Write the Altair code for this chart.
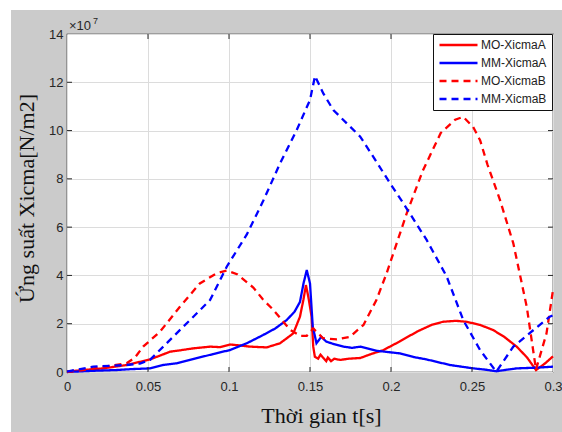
import altair as alt
import pandas as pd

# ---- data (stress in units of 1e7 N/m2) ----
t_mo_a = [0, 0.01, 0.0224, 0.0368, 0.0512, 0.0636, 0.07, 0.078, 0.0883, 0.0945, 0.1006, 0.107, 0.113,
          0.1233, 0.1315, 0.1397, 0.1438, 0.1459, 0.1475, 0.149, 0.151, 0.152, 0.153, 0.155, 0.1565,
          0.158, 0.16, 0.161, 0.163, 0.165, 0.1685, 0.174, 0.181, 0.188, 0.195, 0.205, 0.216, 0.225,
          0.232, 0.24, 0.2467, 0.255, 0.263, 0.27, 0.2776, 0.284, 0.2895, 0.295, 0.3]
mo_a = [0.02, 0.08, 0.15, 0.29, 0.52, 0.84, 0.9, 0.98, 1.05, 1.03, 1.14, 1.1, 1.05,
        1.02, 1.19, 1.6, 2.29, 2.98, 3.6, 3.1, 2.29, 1.05, 0.63, 0.55, 0.72,
        0.6, 0.45, 0.6, 0.45, 0.55, 0.5, 0.55, 0.58, 0.75, 0.9, 1.25, 1.67, 1.95,
        2.08, 2.12, 2.08, 1.95, 1.74, 1.45, 1.05, 0.6, 0.08, 0.35, 0.65]

t_mm_a = [0, 0.0162, 0.03, 0.04, 0.0512, 0.0594, 0.0677, 0.08, 0.09, 0.1006, 0.111, 0.121, 0.1285,
          0.1356, 0.1405, 0.1438, 0.146, 0.148, 0.15, 0.1517, 0.154, 0.157, 0.16, 0.165, 0.1706,
          0.176, 0.181, 0.191, 0.2056, 0.214, 0.222, 0.2364, 0.2508, 0.258, 0.265, 0.27, 0.2776,
          0.29, 0.3]
mm_a = [0.0, 0.05, 0.08, 0.12, 0.15, 0.29, 0.36, 0.57, 0.74, 0.91, 1.19, 1.53, 1.8,
        2.15, 2.5, 2.9, 3.67, 4.22, 3.67, 1.88, 1.19, 1.46, 1.26, 1.15, 1.05,
        1.0, 1.05, 0.88, 0.77, 0.62, 0.52, 0.29, 0.15, 0.1, 0.03, 0.08, 0.15,
        0.18, 0.22]

t_mo_b = [0, 0.01, 0.0224, 0.0368, 0.042, 0.047, 0.0574, 0.0697, 0.082, 0.0924, 0.0986, 0.105,
          0.115, 0.121, 0.127, 0.1377, 0.144, 0.148, 0.152, 0.158, 0.1666, 0.1747, 0.183, 0.191,
          0.1973, 0.2035, 0.2097, 0.2197, 0.2307, 0.2396, 0.2446, 0.2507, 0.255, 0.2595, 0.2673,
          0.2755, 0.2838, 0.2895, 0.296, 0.3]
mo_b = [0, 0.08, 0.22, 0.36, 0.6, 1.05, 1.67, 2.7, 3.67, 4.09, 4.2, 4.05,
        3.5, 3.0, 2.6, 1.75, 1.5, 1.5, 1.8, 1.4, 1.35, 1.46, 1.95, 2.98,
        4.09, 5.33, 6.57, 8.35, 9.9, 10.45, 10.57, 10.15, 9.6, 8.6, 7.12,
        5.33, 2.7, 0.1, 1.6, 3.4]

t_mm_b = [0, 0.0162, 0.0368, 0.045, 0.0512, 0.0636, 0.0759, 0.0883, 0.0986, 0.111, 0.1212, 0.1315,
          0.1418, 0.15, 0.1531, 0.1582, 0.1644, 0.1727, 0.181, 0.189, 0.1994, 0.2076, 0.222,
          0.2344, 0.2446, 0.255, 0.265, 0.2755, 0.288, 0.298, 0.3]
mm_b = [0.02, 0.22, 0.29, 0.35, 0.5, 1.33, 2.15, 2.98, 4.36, 5.7, 7.1, 8.64,
        10.02, 11.27, 12.26, 11.54, 10.85, 10.3, 9.75, 8.92, 7.82, 6.99, 5.47,
        3.95, 2.15, 0.91, 0.01, 1.05, 1.74, 2.29, 2.35]

series_names = ["MO-XicmaA", "MM-XicmaA", "MO-XicmaB", "MM-XicmaB"]
series_colors = ["#ff0000", "#0000ff", "#ff0000", "#0000ff"]
series_dash = [[1, 0], [1, 0], [7, 5], [7, 5]]

x_ticks = [0, 0.05, 0.1, 0.15, 0.2, 0.25, 0.3]
y_ticks = [0, 2, 4, 6, 8, 10, 12, 14]

rows = []
for name, ts, vs in zip(series_names, [t_mo_a, t_mm_a, t_mo_b, t_mm_b], [mo_a, mm_a, mo_b, mm_b]):
    for t, v in zip(ts, vs):
        rows.append({"series": name, "t": t, "v": v})
df = pd.DataFrame(rows)

W, H = 486, 338
TXT = "#262626"

xscale = alt.Scale(domain=[0, 0.3], nice=False, zero=False)
yscale = alt.Scale(domain=[0, 14], nice=False)
xaxis = alt.Axis(values=x_ticks, format="~g", ticks=False, domain=False, grid=True,
                 gridColor="#dcdcdc", labelFont="Liberation Sans", labelFontSize=13,
                 labelColor=TXT, labelPadding=8, labelFlush=False,
                 title="Thời gian t[s]", titleFont="Liberation Serif", titleFontSize=22,
                 titleFontWeight="normal", titleColor="#111111", titleX=254, titleY=50,
                 titleBaseline="alphabetic")
yaxis = alt.Axis(values=y_ticks, ticks=False, domain=False, grid=True,
                 gridColor="#dcdcdc", labelFont="Liberation Sans", labelFontSize=13,
                 labelColor=TXT, labelPadding=4, labelFlush=False,
                 title="Ứng suất Xicma[N/m2]", titleFont="Liberation Serif", titleFontSize=22,
                 titleFontWeight="normal", titleColor="#111111", titleX=-34, titleY=164,
                 titleBaseline="alphabetic")

X = alt.X("t:Q", scale=xscale, axis=xaxis)
Y = alt.Y("v:Q", scale=yscale, axis=yaxis)

one = alt.Data(values=[{}])

# white margin strips (figure edge outside gray frame)
strip_left = alt.Chart(one).mark_rect(color="white").encode(
    x=alt.value(-67), x2=alt.value(-56), y=alt.value(-34), y2=alt.value(H + 60))
strip_top = alt.Chart(one).mark_rect(color="white").encode(
    x=alt.value(-67), x2=alt.value(W + 9), y=alt.value(-34), y2=alt.value(-24))

lines = alt.Chart(df).mark_line(strokeWidth=2.3, strokeCap="butt").encode(
    x=X, y=Y,
    color=alt.Color("series:N", scale=alt.Scale(domain=series_names, range=series_colors),
                    legend=alt.Legend(title=None, orient="none", legendX=366, legendY=0,
                                      fillColor="white", strokeColor="#111111",
                                      padding=5, labelFont="Liberation Sans",
                                      labelFontSize=12, labelColor="#222222",
                                      symbolType="stroke", symbolSize=1444,
                                      symbolStrokeWidth=2.3, clipHeight=12,
                                      rowPadding=6, labelOffset=2, labelLimit=200)),
    strokeDash=alt.StrokeDash("series:N", scale=alt.Scale(domain=series_names, range=series_dash),
                              legend=alt.Legend(title=None, orient="none", legendX=366, legendY=0,
                                                fillColor="white", strokeColor="#111111",
                                                padding=5, labelFont="Liberation Sans",
                                                labelFontSize=12, labelColor="#222222",
                                                symbolType="stroke", symbolSize=1444,
                                                symbolStrokeWidth=2.3, clipHeight=12,
                                                rowPadding=6, labelOffset=2, labelLimit=200)),
    order=alt.Order("t:Q"),
)

xt_df = pd.DataFrame({"t": x_ticks[1:-1]})
yt_df = pd.DataFrame({"v": y_ticks[1:-1]})
tick_bottom = alt.Chart(xt_df).mark_rule(color=TXT, strokeWidth=1).encode(
    x=X, y=alt.value(H), y2=alt.value(H - 5))
tick_top = alt.Chart(xt_df).mark_rule(color=TXT, strokeWidth=1).encode(
    x=X, y=alt.value(0), y2=alt.value(5))
tick_left = alt.Chart(yt_df).mark_rule(color=TXT, strokeWidth=1).encode(
    y=Y, x=alt.value(0), x2=alt.value(5))
tick_right = alt.Chart(yt_df).mark_rule(color=TXT, strokeWidth=1).encode(
    y=Y, x=alt.value(W), x2=alt.value(W - 5))

exp_base = alt.Chart(one).mark_text(text="×10", align="left", baseline="alphabetic",
                                    font="Liberation Sans", fontSize=13, color=TXT).encode(
    x=alt.value(2), y=alt.value(-4))
exp_pow = alt.Chart(one).mark_text(text="7", align="left", baseline="alphabetic",
                                   font="Liberation Sans", fontSize=9, color=TXT).encode(
    x=alt.value(26), y=alt.value(-10))

chart = alt.layer(strip_left, strip_top, lines, tick_bottom, tick_top, tick_left, tick_right,
                  exp_base, exp_pow).properties(
    width=W, height=H,
    autosize=alt.AutoSizeParams(type="none"),
    padding={"left": 67, "top": 34, "right": 9, "bottom": 60},
).configure(background="#cbcbcb").configure_view(
    fill="white", stroke="#1a1a1a", strokeWidth=1.2
)

chart.save("out.html", embed_options={"renderer": "svg", "actions": False})
